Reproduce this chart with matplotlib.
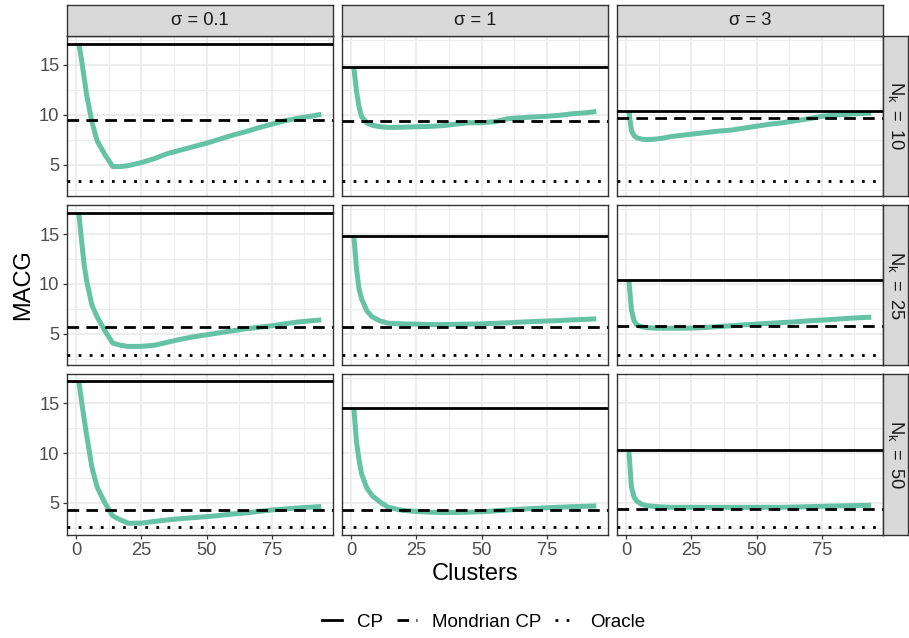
import matplotlib
matplotlib.use("Agg")
import matplotlib.pyplot as plt
from matplotlib.lines import Line2D
from matplotlib.ticker import FixedLocator

plt.rcParams['font.family'] = ['Liberation Sans', 'DejaVu Sans']
plt.rcParams['mathtext.fontset'] = 'custom'
plt.rcParams['mathtext.rm'] = 'Liberation Sans'
plt.rcParams['mathtext.it'] = 'Liberation Sans:italic'

# ---- data -----------------------------------------------------------------
clusters = [1, 2, 3, 4, 6, 8, 11, 14, 17, 20, 25, 30, 35, 40, 45, 50,
            55, 60, 65, 70, 75, 80, 85, 90, 94]
sigma_values = ["0.1", "1", "3"]
nk_values = ["10", "25", "50"]

# horizontal reference levels, one value per sigma column
cp_n10 = [17.1, 14.77, 10.4]
cp_n25 = [17.1, 14.8, 10.4]
cp_n50 = [17.2, 14.57, 10.3]
mondrian_n10 = [9.43, 9.37, 9.67]
mondrian_n25 = [5.73, 5.67, 5.8]
mondrian_n50 = [4.3, 4.3, 4.37]
oracle_n10 = [3.35, 3.33, 3.33]
oracle_n25 = [2.87, 2.87, 2.87]
oracle_n50 = [2.57, 2.63, 2.63]

# clustered CP, MACG against number of clusters
clustered_n10_s01 = [17.1, 15.6, 13.8, 12.0, 9.3, 7.4, 6.0, 4.8, 4.8, 4.9, 5.2, 5.6, 6.1,
                     6.45, 6.8, 7.15, 7.55, 7.95, 8.3, 8.7, 9.05, 9.4, 9.65, 9.85, 10.05]
clustered_n10_s1 = [14.77, 12.4, 10.8, 9.8, 9.2, 8.95, 8.8, 8.73, 8.73, 8.75, 8.8, 8.83, 8.9,
                    9.05, 9.2, 9.2, 9.3, 9.6, 9.7, 9.78, 9.85, 9.95, 10.1, 10.2, 10.33]
clustered_n10_s3 = [10.4, 8.4, 7.9, 7.7, 7.55, 7.5, 7.55, 7.65, 7.8, 7.9, 8.05, 8.2, 8.35,
                    8.45, 8.65, 8.85, 9.05, 9.2, 9.4, 9.6, 9.85, 9.95, 10.05, 10.12, 10.17]
clustered_n25_s01 = [17.1, 14.5, 12.0, 10.3, 7.9, 6.7, 5.3, 4.07, 3.85, 3.73, 3.74, 3.85, 4.15,
                     4.45, 4.7, 4.9, 5.1, 5.3, 5.5, 5.65, 5.8, 6.0, 6.18, 6.3, 6.4]
clustered_n25_s1 = [14.8, 11.6, 9.5, 8.5, 7.3, 6.7, 6.3, 6.07, 6.02, 6.0, 5.97, 5.93, 5.92,
                    5.95, 5.97, 6.0, 6.05, 6.1, 6.17, 6.23, 6.28, 6.33, 6.4, 6.45, 6.5]
clustered_n25_s3 = [10.4, 7.4, 6.3, 5.9, 5.7, 5.62, 5.57, 5.56, 5.56, 5.56, 5.57, 5.62, 5.72,
                    5.8, 5.9, 5.97, 6.05, 6.13, 6.2, 6.3, 6.37, 6.45, 6.55, 6.62, 6.67]
clustered_n50_s01 = [17.2, 15.3, 13.5, 11.8, 8.6, 6.6, 5.0, 3.7, 3.3, 2.97, 2.98, 3.15, 3.3,
                     3.43, 3.53, 3.63, 3.75, 3.9, 4.0, 4.15, 4.3, 4.4, 4.5, 4.58, 4.65]
clustered_n50_s1 = [14.57, 11.2, 9.3, 7.9, 6.5, 5.75, 5.1, 4.6, 4.4, 4.25, 4.15, 4.08, 4.05,
                    4.05, 4.08, 4.12, 4.2, 4.3, 4.38, 4.45, 4.52, 4.58, 4.63, 4.67, 4.7]
clustered_n50_s3 = [10.3, 6.6, 5.6, 5.2, 4.85, 4.72, 4.65, 4.6, 4.57, 4.57, 4.57, 4.57, 4.57,
                    4.57, 4.57, 4.57, 4.57, 4.57, 4.6, 4.63, 4.66, 4.7, 4.72, 4.75, 4.77]

cp = [cp_n10, cp_n25, cp_n50]
mondrian = [mondrian_n10, mondrian_n25, mondrian_n50]
oracle = [oracle_n10, oracle_n25, oracle_n50]
clustered = [[clustered_n10_s01, clustered_n10_s1, clustered_n10_s3],
             [clustered_n25_s01, clustered_n25_s1, clustered_n25_s3],
             [clustered_n50_s01, clustered_n50_s1, clustered_n50_s3]]

# ---- styling --------------------------------------------------------------
GREEN = "#66C2A5"
BORDER = "#333333"
GRID = "#EBEBEB"
STRIP = "#D9D9D9"
TICKTXT = "#4D4D4D"
LW_REF = 2.0
DASHED = (0, (4.2, 2.6))
DOTTED = (0, (1, 3))

W, H = 909, 638
fig = plt.figure(figsize=(W / 100, H / 100), dpi=100)


def box(x0, y0, w, h):
    return [x0 / W, 1 - (y0 + h) / H, w / W, h / H]


# shared scales with 5% padding, as in the facetted layout
all_y = [v for rows in (cp, mondrian, oracle) for r in rows for v in r]
all_y += [v for rows in clustered for r in rows for v in r]
ymin, ymax = min(all_y), max(all_y)
ypad = 0.05 * (ymax - ymin)
xmin, xmax = min(clusters), max(clusters)
xpad = 0.05 * (xmax - xmin)

PX0, PY0, PW, PH = 66.7, 35.7, 266.7, 160.4
DX, DY = 275.0, 169.2

for i in range(3):
    for j in range(3):
        ax = fig.add_axes(box(PX0 + DX * j, PY0 + DY * i, PW, PH))
        ax.set_xlim(xmin - xpad, xmax + xpad)
        ax.set_ylim(ymin - ypad, ymax + ypad)
        ax.xaxis.set_major_locator(FixedLocator([0, 25, 50, 75]))
        ax.xaxis.set_minor_locator(FixedLocator([12.5, 37.5, 62.5, 87.5]))
        ax.yaxis.set_major_locator(FixedLocator([5, 10, 15]))
        ax.yaxis.set_minor_locator(FixedLocator([2.5, 7.5, 12.5, 17.5]))
        ax.set_axisbelow(True)
        ax.grid(which='major', color=GRID, lw=1.25)
        ax.grid(which='minor', color=GRID, lw=0.65)
        for s in ax.spines.values():
            s.set_color(BORDER)
            s.set_linewidth(1.0)
        ax.tick_params(which='major', length=3.2, width=0.9, color=BORDER,
                       labelcolor=TICKTXT, labelsize=13.2, pad=2)
        ax.tick_params(which='minor', length=0)
        if j > 0:
            ax.tick_params(axis='y', labelleft=False, length=0)
        if i < 2:
            ax.tick_params(axis='x', labelbottom=False, length=0)

        ax.plot(clusters, clustered[i][j], color=GREEN, lw=3.6,
                solid_joinstyle='round', solid_capstyle='butt', zorder=2)
        ax.axhline(cp[i][j], color='black', lw=LW_REF, zorder=3)
        ax.axhline(mondrian[i][j], color='black', lw=LW_REF, ls=DASHED, zorder=3)
        ax.axhline(oracle[i][j], color='black', lw=LW_REF, ls=DOTTED, zorder=3)


def strip(rect, label, rotation=0):
    sa = fig.add_axes(rect)
    sa.set_facecolor(STRIP)
    sa.set_xticks([])
    sa.set_yticks([])
    for s in sa.spines.values():
        s.set_color(BORDER)
        s.set_linewidth(1.0)
    sa.text(0.5, 0.5, label, ha='center', va='center', rotation=rotation,
            fontsize=13.2, color='#1A1A1A', transform=sa.transAxes)


for j, sv in enumerate(sigma_values):
    strip(box(PX0 + DX * j, 5.0, PW, PY0 - 5.0), "σ = " + sv)

for i, nv in enumerate(nk_values):
    strip(box(PX0 + DX * 2 + PW, PY0 + DY * i, 24.2, PH),
          r"$\mathrm{N_k\ =\ " + nv + "}$", rotation=-90)

fig.text(475 / W, 1 - 573.5 / H, "Clusters", ha='center', va='center', fontsize=17)
fig.text(23.5 / W, 1 - 285 / H, "MACG", ha='center', va='center', rotation=90, fontsize=17)

handles = [Line2D([], [], color='black', lw=LW_REF),
           Line2D([], [], color='black', lw=LW_REF, ls=DASHED),
           Line2D([], [], color='black', lw=LW_REF, ls=DOTTED)]
fig.legend(handles, ["CP", "Mondrian CP", "Oracle"], loc='center',
           bbox_to_anchor=(483.5 / W, 1 - 622 / H), ncol=3, frameon=False,
           fontsize=13.5, handlelength=1.05, handletextpad=0.8, columnspacing=0.75)

fig.savefig("out.png", dpi=100)
